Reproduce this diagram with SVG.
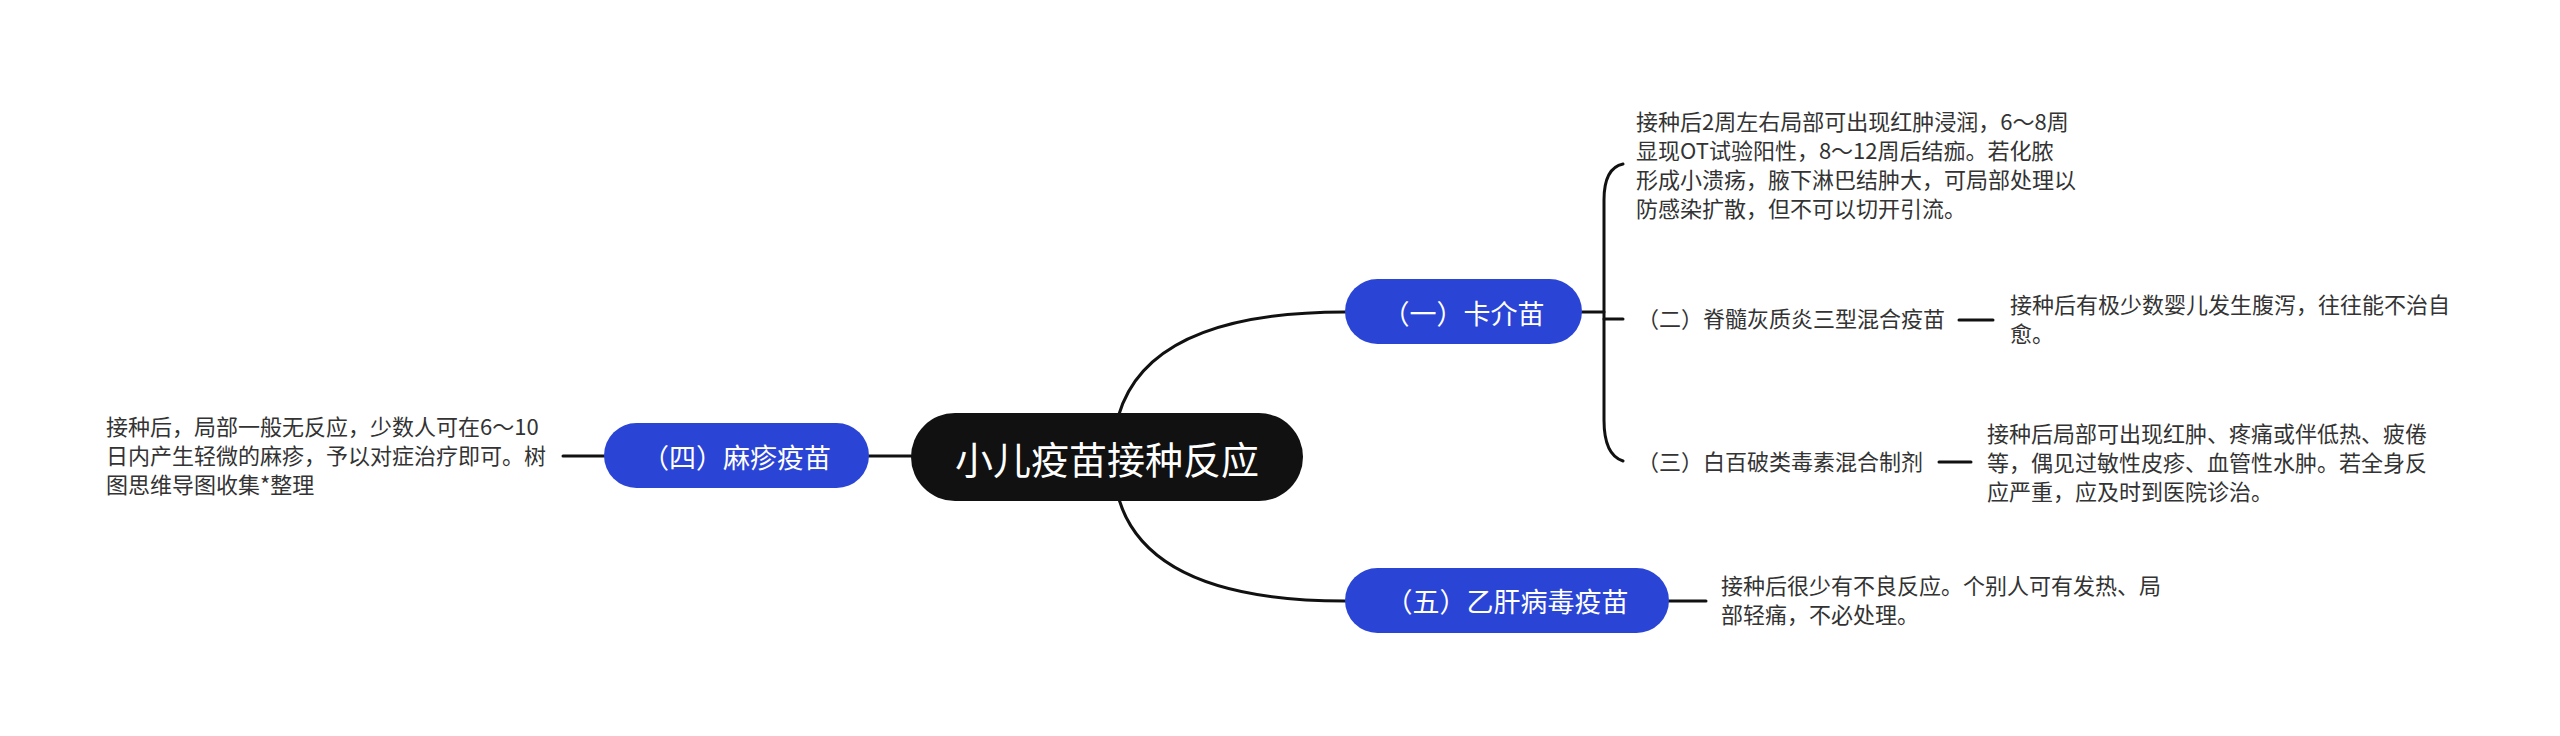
<svg xmlns="http://www.w3.org/2000/svg" width="2560" height="736" viewBox="0 0 2560 736">
<style>
.ln{fill:none;stroke:#111;stroke-width:3;stroke-linecap:round}
.pill{fill:#2a44d6}
.pt{font-family:"Noto Sans CJK SC","Noto Sans",sans-serif;font-size:27px;fill:#fff;text-anchor:middle;dominant-baseline:central}
.rt{font-family:"Noto Sans CJK SC","Noto Sans",sans-serif;font-size:38px;fill:#fff;text-anchor:middle;dominant-baseline:central}
.lf{font-family:"Noto Sans CJK SC","Noto Sans",sans-serif;font-size:22px;fill:#333}
</style>
<rect width="2560" height="736" fill="#fff"/>
<g id="connectors">
<path class="ln" d="M1113,457 Q1113,312 1345,312"/>
<path class="ln" d="M1113,457 Q1113,601 1345,601"/>
<path class="ln" d="M869,456 L911,456"/>
<path class="ln" d="M563,456 L604,456"/>
<path class="ln" d="M1582,312 L1604,312"/>
<path class="ln" d="M1623,164 Q1604,168 1604,200 L1604,420 Q1604,455 1623,461"/>
<path class="ln" d="M1604,319 L1623,319"/>
<path class="ln" d="M1959,320 L1993,320"/>
<path class="ln" d="M1939,462 L1971,462"/>
<path class="ln" d="M1669,601 L1706,601"/>
</g>
<g id="root">
<rect x="911" y="413" width="392" height="88" rx="44" fill="#111"/>
<text class="rt" x="1107" y="457">小儿疫苗接种反应</text>
</g>
<g id="node-4">
<rect class="pill" x="604" y="423" width="265" height="65" rx="32.5"/>
<text class="pt" x="736.5" y="456">（四）麻疹疫苗</text>
</g>
<g id="leaf-4">
<text class="lf" x="106" y="435">接种后，局部一般无反应，少数人可在6～10</text>
<text class="lf" x="106" y="464">日内产生轻微的麻疹，予以对症治疗即可。树</text>
<text class="lf" x="106" y="493">图思维导图收集*整理</text>
</g>
<g id="node-1">
<rect class="pill" x="1345" y="279" width="237" height="65" rx="32.5"/>
<text class="pt" x="1463.5" y="312">（一）卡介苗</text>
</g>
<g id="leaf-1">
<text class="lf" x="1636" y="130">接种后2周左右局部可出现红肿浸润，6～8周</text>
<text class="lf" x="1636" y="159">显现OT试验阳性，8～12周后结痂。若化脓</text>
<text class="lf" x="1636" y="188">形成小溃疡，腋下淋巴结肿大，可局部处理以</text>
<text class="lf" x="1636" y="217">防感染扩散，但不可以切开引流。</text>
</g>
<g id="node-2">
<text class="lf" x="1637" y="327">（二）脊髓灰质炎三型混合疫苗</text>
</g>
<g id="leaf-2">
<text class="lf" x="2010" y="313">接种后有极少数婴儿发生腹泻，往往能不治自</text>
<text class="lf" x="2010" y="342">愈。</text>
</g>
<g id="node-3">
<text class="lf" x="1637" y="470">（三）白百破类毒素混合制剂</text>
</g>
<g id="leaf-3">
<text class="lf" x="1987" y="442">接种后局部可出现红肿、疼痛或伴低热、疲倦</text>
<text class="lf" x="1987" y="471">等，偶见过敏性皮疹、血管性水肿。若全身反</text>
<text class="lf" x="1987" y="500">应严重，应及时到医院诊治。</text>
</g>
<g id="node-5">
<rect class="pill" x="1345" y="568" width="324" height="65" rx="32.5"/>
<text class="pt" x="1507" y="600.5">（五）乙肝病毒疫苗</text>
</g>
<g id="leaf-5">
<text class="lf" x="1721" y="594">接种后很少有不良反应。个别人可有发热、局</text>
<text class="lf" x="1721" y="623">部轻痛，不必处理。</text>
</g>
</svg>
